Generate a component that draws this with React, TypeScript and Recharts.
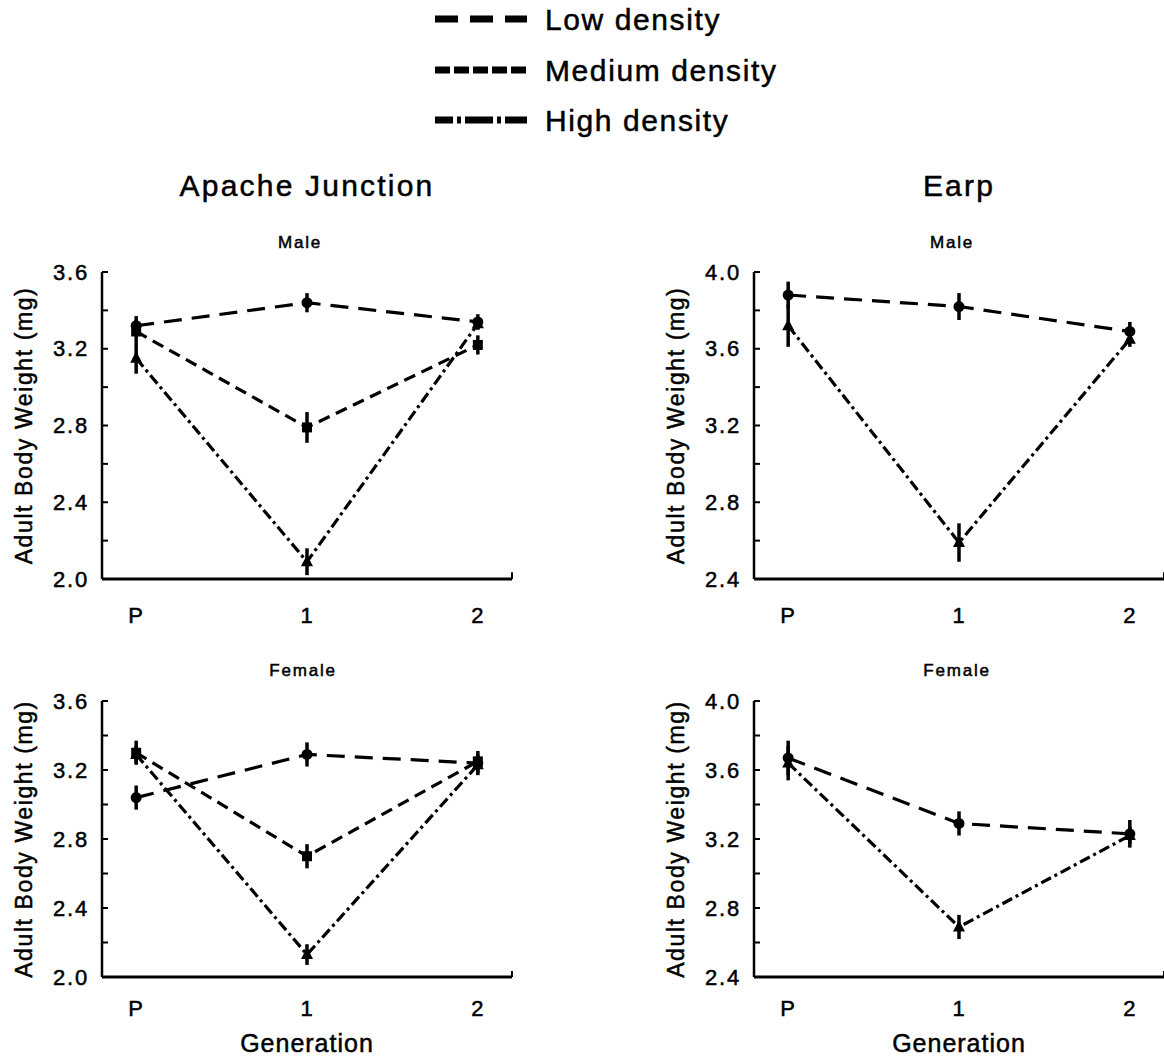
import React from 'react';
import { LineChart, Line, XAxis, YAxis, ErrorBar, ReferenceLine, Label } from 'recharts';

const generations = ['P', '1', '2'];

// Apache Junction, male
const ajMaleLow = [3.32, 3.44, 3.34];
const ajMaleLowErr = [0.05, 0.05, 0.04];
const ajMaleMed = [3.29, 2.79, 3.22];
const ajMaleMedErr = [0.06, 0.08, 0.05];
const ajMaleHigh = [3.15, 2.09, 3.33];
const ajMaleHighErr = [0.08, 0.07, 0.03];

// Apache Junction, female
const ajFemaleLow = [3.04, 3.29, 3.24];
const ajFemaleLowErr = [0.07, 0.07, 0.07];
const ajFemaleMed = [3.3, 2.7, 3.25];
const ajFemaleMedErr = [0.07, 0.07, 0.04];
const ajFemaleHigh = [3.29, 2.13, 3.23];
const ajFemaleHighErr = [0.05, 0.06, 0.05];

// Earp, male
const eMaleLow = [3.88, 3.82, 3.69];
const eMaleLowErr = [0.07, 0.07, 0.05];
const eMaleHigh = [3.72, 2.59, 3.65];
const eMaleHighErr = [0.11, 0.1, 0.04];

// Earp, female
const eFemaleLow = [3.67, 3.29, 3.23];
const eFemaleLowErr = [0.1, 0.07, 0.08];
const eFemaleHigh = [3.64, 2.69, 3.22];
const eFemaleHighErr = [0.1, 0.07, 0.05];

const ajTicks = [2.0, 2.2, 2.4, 2.6, 2.8, 3.0, 3.2, 3.4, 3.6];
const earpTicks = [2.4, 2.6, 2.8, 3.0, 3.2, 3.4, 3.6, 3.8, 4.0];

const FONT = '"Liberation Sans", Arial, Helvetica, sans-serif';
// scanned type looks heavier than plain regular, so give text a thin outline
const INK = { fill: '#000', stroke: '#000', strokeWidth: 0.5 };

const DASH = { low: '18 10', med: '12 7', high: '11 4 3 4' };

const mkRows = (low: number[], lowErr: number[], med: number[] | null, medErr: number[] | null, high: number[], highErr: number[]) =>
  generations.map((g, i) => ({
    x: i,
    low: low[i], lowErr: lowErr[i],
    med: med ? med[i] : undefined, medErr: medErr ? medErr[i] : undefined,
    high: high[i], highErr: highErr[i],
  }));

const CircleDot = (p: any) => (p.cx == null ? <g key={p.index} /> :
  <circle key={p.index} cx={p.cx} cy={p.cy} r={5.5} fill="#000" />);
const SquareDot = (p: any) => (p.cx == null ? <g key={p.index} /> :
  <rect key={p.index} x={p.cx - 5} y={p.cy - 5} width={10} height={10} fill="#000" />);
const TriDot = (p: any) => (p.cx == null ? <g key={p.index} /> :
  <path key={p.index} d={`M${p.cx},${p.cy - 7} L${p.cx + 6},${p.cy + 4.5} L${p.cx - 6},${p.cy + 4.5} Z`} fill="#000" />);

const YTick = (p: any) => {
  const v = p.payload.value as number;
  const show = Math.round(v * 10) % 4 === 0;
  return (
    <g>
      <line x1={p.x} x2={p.x + 6} y1={p.y} y2={p.y} stroke="#000" strokeWidth={2} />
      {show && (
        <text x={p.x - 13} y={p.y} textAnchor="end" dominantBaseline="central"
          fontFamily={FONT} fontSize={22} letterSpacing={1.8} {...INK}>{v.toFixed(1)}</text>
      )}
    </g>
  );
};

const XTick = (p: any, dy: number) => (
  <text x={p.x} y={p.y + dy} textAnchor="middle" dominantBaseline="central"
    fontFamily={FONT} fontSize={22} letterSpacing={1} {...INK}>{generations[p.payload.value]}</text>
);

const YLabel = (p: any) => {
  const vb = p.viewBox;
  const cx = vb.x + 24;
  const cy = vb.y + vb.height / 2;
  return (
    <text x={cx} y={cy} transform={`rotate(-90, ${cx}, ${cy})`} textAnchor="middle" dominantBaseline="central"
      fontFamily={FONT} fontSize={23} letterSpacing={1.6} {...INK}>Adult Body Weight (mg)</text>
  );
};

const GenLabel = (p: any) => {
  const vb = p.viewBox;
  return (
    <text x={vb.x + vb.width / 2} y={vb.y + 66} textAnchor="middle" dominantBaseline="central"
      fontFamily={FONT} fontSize={25} letterSpacing={1} {...INK}>Generation</text>
  );
};

interface PanelProps {
  left: number; top: number; marginTop: number; plotH: number; xAxisH: number;
  rows: any[]; yTicks: number[]; hasMed: boolean; xDy: number; showGen: boolean;
}

const Panel: React.FC<PanelProps> = ({ left, top, marginTop, plotH, xAxisH, rows, yTicks, hasMed, xDy, showGen }) => {
  const yMin = yTicks[0];
  const yMax = yTicks[yTicks.length - 1];
  return (
    <div style={{ position: 'absolute', left, top }}>
      <LineChart width={520} height={marginTop + plotH + xAxisH} data={rows}
        margin={{ top: marginTop, right: 8, bottom: 0, left: 0 }}>
        <XAxis dataKey="x" type="number" domain={[-0.2, 2.2]} ticks={[0, 1, 2]} interval={0}
          height={xAxisH} tickSize={0} tickMargin={0} tickLine={false}
          axisLine={{ stroke: '#000', strokeWidth: 3 }} tick={(p: any) => XTick(p, xDy)}>
          {showGen && <Label content={GenLabel} />}
        </XAxis>
        <YAxis type="number" domain={[yMin, yMax]} ticks={yTicks} interval={0} width={102}
          tickSize={0} tickMargin={0} tickLine={false}
          axisLine={{ stroke: '#000', strokeWidth: 2.5 }} tick={(p: any) => <YTick {...p} />}>
          <Label content={YLabel} />
        </YAxis>
        <ReferenceLine segment={[{ x: 2.2, y: yMin }, { x: 2.2, y: yMin + (yMax - yMin) * 0.022 }]}
          stroke="#000" strokeWidth={2} />
        <Line type="linear" dataKey="high" stroke="#000" strokeWidth={3.2} strokeDasharray={DASH.high}
          dot={TriDot} activeDot={false} isAnimationActive={false}>
          <ErrorBar dataKey="highErr" direction="y" width={0} stroke="#000" strokeWidth={3.5} />
        </Line>
        {hasMed && (
          <Line type="linear" dataKey="med" stroke="#000" strokeWidth={3.2} strokeDasharray={DASH.med}
            dot={SquareDot} activeDot={false} isAnimationActive={false}>
            <ErrorBar dataKey="medErr" direction="y" width={0} stroke="#000" strokeWidth={3.5} />
          </Line>
        )}
        <Line type="linear" dataKey="low" stroke="#000" strokeWidth={3.2} strokeDasharray={DASH.low}
          dot={CircleDot} activeDot={false} isAnimationActive={false}>
          <ErrorBar dataKey="lowErr" direction="y" width={0} stroke="#000" strokeWidth={3.5} />
        </Line>
      </LineChart>
    </div>
  );
};

const legendItems = [
  { name: 'Low density', dash: '23 12', y: 19 },
  { name: 'Medium density', dash: '15 4', y: 70 },
  { name: 'High density', dash: '18 4 4 4 28 4 4 4 30', y: 120 },
];

const titles = [
  { text: 'Apache Junction', x: 307, y: 185, size: 30, ls: 2.2 },
  { text: 'Earp', x: 959, y: 185, size: 30, ls: 2.2 },
  { text: 'Male', x: 300, y: 242, size: 17, ls: 1.8 },
  { text: 'Male', x: 952, y: 242, size: 17, ls: 1.8 },
  { text: 'Female', x: 303, y: 670, size: 17, ls: 1.8 },
  { text: 'Female', x: 957, y: 670, size: 17, ls: 1.8 },
];

export default function App() {
  return (
    <div style={{ position: 'absolute', left: 0, top: 0, width: 1164, height: 1056, overflow: 'hidden', background: '#fff' }}>
      <svg width={1164} height={1056} style={{ position: 'absolute', left: 0, top: 0 }}>
        {legendItems.map((l) => (
          <g key={l.name}>
            <line x1={435} x2={527} y1={l.y} y2={l.y} stroke="#000" strokeWidth={7} strokeDasharray={l.dash} />
            <text x={545} y={l.y} dominantBaseline="central" fontFamily={FONT} fontSize={30} letterSpacing={1.6} {...INK}>{l.name}</text>
          </g>
        ))}
        {titles.map((t, i) => (
          <text key={i} x={t.x} y={t.y} textAnchor="middle" dominantBaseline="central"
            fontFamily={FONT} fontSize={t.size} letterSpacing={t.ls} {...INK}>{t.text}</text>
        ))}
      </svg>
      <Panel left={0} top={230} marginTop={42} plotH={307} xAxisH={71} xDy={36} showGen={false}
        rows={mkRows(ajMaleLow, ajMaleLowErr, ajMaleMed, ajMaleMedErr, ajMaleHigh, ajMaleHighErr)}
        yTicks={ajTicks} hasMed />
      <Panel left={652} top={230} marginTop={42} plotH={307} xAxisH={71} xDy={36} showGen={false}
        rows={mkRows(eMaleLow, eMaleLowErr, null, null, eMaleHigh, eMaleHighErr)}
        yTicks={earpTicks} hasMed={false} />
      <Panel left={0} top={650} marginTop={51} plotH={276} xAxisH={79} xDy={31} showGen
        rows={mkRows(ajFemaleLow, ajFemaleLowErr, ajFemaleMed, ajFemaleMedErr, ajFemaleHigh, ajFemaleHighErr)}
        yTicks={ajTicks} hasMed />
      <Panel left={652} top={650} marginTop={51} plotH={276} xAxisH={79} xDy={31} showGen
        rows={mkRows(eFemaleLow, eFemaleLowErr, null, null, eFemaleHigh, eFemaleHighErr)}
        yTicks={earpTicks} hasMed={false} />
    </div>
  );
}
